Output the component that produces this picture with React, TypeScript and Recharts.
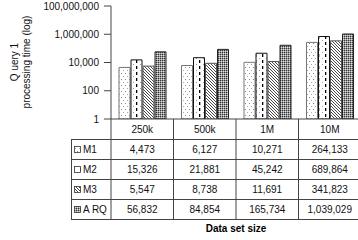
import { BarChart, Bar, XAxis, YAxis } from 'recharts'

const categories = ['250k', '500k', '1M', '10M']
const m1Values = [4473, 6127, 10271, 264133]
const m2Values = [15326, 21881, 45242, 689864]
const m3Values = [5547, 8738, 11691, 341823]
const arqValues = [56832, 84854, 165734, 1039029]
const yTicks = [1, 100, 10000, 1000000, 100000000]

const series = [
  { key: 'M1', values: m1Values, pattern: 'p-m1', stroke: '#777' },
  { key: 'M2', values: m2Values, pattern: 'p-m2', stroke: '#111' },
  { key: 'M3', values: m3Values, pattern: 'p-m3', stroke: '#555' },
  { key: 'ARQ', values: arqValues, pattern: 'p-arq', stroke: '#222' }
]

const data = categories.map((name, i) => {
  const row: any = { name }
  series.forEach((s) => (row[s.key] = s.values[i]))
  return row
})

const FONT = '"Liberation Sans", Arial, sans-serif'
const W = 361
const H = 240
const PLOT_LEFT = 111
const AXIS_Y = 119
const ROW_H = 20
const TABLE_LEFT = 71
const fmt = (v: number) => v.toLocaleString('en-US')

const Patterns = () => (
  <svg width={0} height={0} style={{ position: 'absolute' }}>
    <defs>
      <pattern id='p-m1' width={4} height={6} patternUnits='userSpaceOnUse'>
        <rect width={4} height={6} fill='#fff' />
        <rect x={1} y={1} width={1} height={1} fill='#888' />
        <rect x={3} y={4} width={1} height={1} fill='#aaa' />
      </pattern>
      <pattern id='p-m2' width={7} height={6} patternUnits='userSpaceOnUse'>
        <rect width={7} height={6} fill='#fff' />
        <rect x={3} y={0} width={1.3} height={3} fill='#000' />
        <rect x={0} y={4} width={1} height={1} fill='#999' />
      </pattern>
      <pattern id='p-m3' width={3} height={3} patternUnits='userSpaceOnUse'>
        <rect width={3} height={3} fill='#fff' />
        <path d='M0,0 L3,3 M-1,2 L1,4 M2,-1 L4,1' stroke='#333' strokeWidth={0.9} />
      </pattern>
      <pattern id='p-arq' width={2} height={2} patternUnits='userSpaceOnUse'>
        <rect width={2} height={2} fill='#999' />
        <rect x={0} y={0} width={1} height={1} fill='#333' />
        <rect x={1} y={1} width={1} height={1} fill='#ddd' />
      </pattern>
    </defs>
  </svg>
)

const CategoryTick = (props: any) => {
  const { x, payload } = props
  return (
    <text x={x} y={AXIS_Y + 14} textAnchor='middle' fontSize={10} fill='#111' fontFamily={FONT}>
      {payload.value}
    </text>
  )
}

const TableOverlay = () => {
  const colW = (W - PLOT_LEFT) / categories.length
  const tableBottom = AXIS_Y + ROW_H * (series.length + 1)
  return (
    <svg width={W} height={H} style={{ position: 'absolute', left: 0, top: 0, pointerEvents: 'none' }}>
      {/* vertical column lines */}
      {categories.map((_, i) => (
        <line key={'v' + i} x1={PLOT_LEFT + i * colW} x2={PLOT_LEFT + i * colW} y1={AXIS_Y} y2={tableBottom} stroke='#444' />
      ))}
      <line x1={TABLE_LEFT + 0.5} x2={TABLE_LEFT + 0.5} y1={AXIS_Y + ROW_H} y2={tableBottom} stroke='#444' />
      {/* horizontal row lines */}
      {series.map((_, r) => (
        <line key={'h' + r} x1={TABLE_LEFT} x2={W} y1={AXIS_Y + ROW_H * (r + 1) + 0.5} y2={AXIS_Y + ROW_H * (r + 1) + 0.5} stroke='#444' />
      ))}
      <line x1={TABLE_LEFT} x2={W} y1={tableBottom + 0.5} y2={tableBottom + 0.5} stroke='#444' />
      {series.map((s, r) => {
        const top = AXIS_Y + ROW_H * (r + 1)
        return (
          <g key={s.key}>
            <rect x={TABLE_LEFT + 3.5} y={top + 7.5} width={6} height={6} fill={`url(#${s.pattern})`} stroke='#333' strokeWidth={0.8} />
            <text x={TABLE_LEFT + 12} y={top + 14} fontSize={10} fill='#111' fontFamily={FONT}>
              {s.key === 'ARQ' ? 'A RQ' : s.key}
            </text>
            {s.values.map((v, i) => (
              <text key={i} x={PLOT_LEFT + (i + 0.5) * colW} y={top + 14} textAnchor='middle' fontSize={10} fill='#111' fontFamily={FONT}>
                {fmt(v)}
              </text>
            ))}
          </g>
        )
      })}
      <text transform='translate(18,62) rotate(-90)' textAnchor='middle' fontSize={10} fill='#111' fontFamily={FONT}>
        Q uery 1
      </text>
      <text transform='translate(30,62) rotate(-90)' textAnchor='middle' fontSize={10} fill='#111' fontFamily={FONT}>
        processing time (log)
      </text>
      <text x={236} y={232} textAnchor='middle' fontSize={10} fontWeight='bold' fill='#000' fontFamily={FONT}>
        Data set size
      </text>
    </svg>
  )
}

const App = () => {
  return (
    <div style={{ position: 'absolute', left: 0, top: 0, width: 358, height: 240, overflow: 'hidden', background: '#fff' }}>
      <Patterns />
      <BarChart
        width={W}
        height={H}
        data={data}
        margin={{ top: 6, right: 0, left: 0, bottom: 0 }}
        barCategoryGap={8}
        barGap={1}
      >
        <XAxis xAxisId='top' orientation='top' dataKey='name' height={0} tick={false} tickLine={false} axisLine={{ stroke: '#444' }} />
        <XAxis dataKey='name' height={H - AXIS_Y} tickLine={false} axisLine={{ stroke: '#444' }} tick={<CategoryTick />} interval={0} />
        <YAxis
          scale='log'
          domain={[1, 100000000]}
          ticks={yTicks}
          allowDataOverflow
          width={PLOT_LEFT}
          tickSize={7}
          tickMargin={5}
          tickFormatter={fmt}
          tick={{ fontSize: 10, fill: '#111', fontFamily: FONT }}
          axisLine={{ stroke: '#444' }}
          tickLine={{ stroke: '#444' }}
        />
        {series.map((s) => (
          <Bar key={s.key} dataKey={s.key} fill={`url(#${s.pattern})`} stroke={s.stroke} strokeWidth={1} isAnimationActive={false} />
        ))}
      </BarChart>
      <TableOverlay />
    </div>
  )
}

export default App
